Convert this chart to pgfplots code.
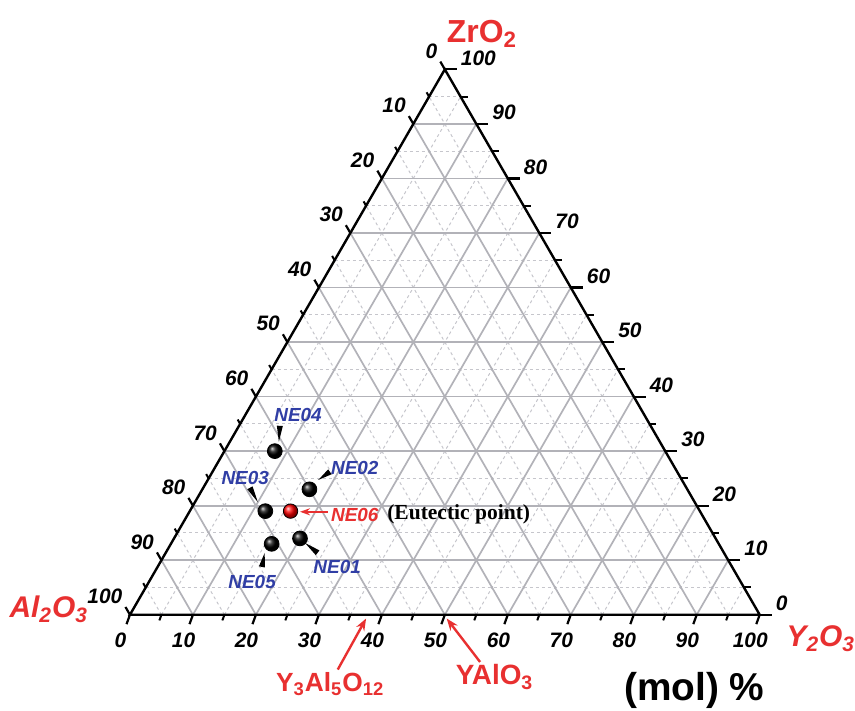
\documentclass[border=0pt]{standalone}
\usepackage{pgfplots}
\pgfplotsset{compat=1.18}
\usepackage{pgfplotstable}
\usepackage{fontspec}
\setmainfont{Liberation Sans}
\newfontfamily\serifb{Liberation Serif}
\usetikzlibrary{calc,arrows.meta}

\definecolor{lblred}{RGB}{232,48,48}
\definecolor{lblblue}{RGB}{48,62,165}
\definecolor{gridmaj}{RGB}{178,178,184}
\definecolor{gridmin}{RGB}{198,198,204}

% compositions in mol%: Al2O3, Y2O3, ZrO2
\pgfplotstableread{
name Al Y  Zr
NE01 66 20 14
NE02 60 17 23
NE03 69 12 19
NE04 62  8 30
NE05 71 16 13
}\samples
\pgfplotstableread{
name Al Y  Zr
NE06 65 16 19
}\eutectic

% pointer wedge: #1 tip, #2 wide end
\newcommand{\ptr}[2]{%
  \fill[black] ($(axis cs:#2)!1.5bp!90:(axis cs:#1)$) -- (axis cs:#1)
    -- ($(axis cs:#2)!1.5bp!-90:(axis cs:#1)$) -- cycle;}

\begin{document}
\begin{tikzpicture}[
    ticklbl/.style={font=\fontsize{10.5}{12}\selectfont\bfseries\itshape},
    nelbl/.style={font=\fontsize{9.5}{11}\selectfont\bfseries\itshape, text=lblblue},
    biglbl/.style={text=lblred, inner sep=0pt},
]
\begin{axis}[
    x=3.15bp, y=3.15bp,
    xmin=-20.635, xmax=115.079,
    ymin=-15.238, ymax=97.619,
    hide axis, clip=false,
]
\path (rel axis cs:0,0) rectangle (rel axis cs:1,1);

% grid
\pgfplotsinvokeforeach{5,15,...,95}{
  \draw[gridmin, line width=0.5bp, dash pattern=on 1.5bp off 1.5bp]
    (axis cs:{#1/2},{#1*0.8660254}) -- (axis cs:{100-#1/2},{#1*0.8660254});
  \draw[gridmin, line width=0.5bp, dash pattern=on 1.5bp off 1.5bp]
    (axis cs:#1,0) -- (axis cs:{(100+#1)/2},{(100-#1)*0.8660254});
  \draw[gridmin, line width=0.5bp, dash pattern=on 1.5bp off 1.5bp]
    (axis cs:#1,0) -- (axis cs:{#1/2},{#1*0.8660254});
}
\pgfplotsinvokeforeach{10,20,...,90}{
  \draw[gridmaj, line width=0.85bp]
    (axis cs:{#1/2},{#1*0.8660254}) -- (axis cs:{100-#1/2},{#1*0.8660254});
  \draw[gridmaj, line width=0.85bp]
    (axis cs:#1,0) -- (axis cs:{(100+#1)/2},{(100-#1)*0.8660254});
  \draw[gridmaj, line width=0.85bp]
    (axis cs:#1,0) -- (axis cs:{#1/2},{#1*0.8660254});
}

% frame
\draw[black, line width=1.2bp, line join=miter]
  (axis cs:0,0) -- (axis cs:100,0) -- (axis cs:50,86.60254) -- cycle;

% major ticks and labels
\pgfplotsinvokeforeach{0,10,...,100}{
  \draw[line width=1.1bp] (axis cs:{(100-#1)/2},{(100-#1)*0.8660254}) -- ++(120:4.5bp)
    node[ticklbl, anchor=south east, inner sep=1bp] {#1};
  \draw[line width=1.1bp] (axis cs:{100-#1/2},{#1*0.8660254}) -- ++(6bp,0bp)
    node[ticklbl, anchor=south west, inner sep=1.5bp] {#1};
  \draw[line width=1.1bp] (axis cs:#1,0) -- ++(250:5bp)
    node[ticklbl, anchor=north, inner sep=4bp, xshift=-3bp] {#1};
}
% minor ticks
\pgfplotsinvokeforeach{5,15,...,95}{
  \draw[line width=1bp] (axis cs:{(100-#1)/2},{(100-#1)*0.8660254}) -- ++(120:2.5bp);
  \draw[line width=1bp] (axis cs:{100-#1/2},{#1*0.8660254}) -- ++(3.5bp,0bp);
  \draw[line width=1bp] (axis cs:#1,0) -- ++(250:3bp);
}

% samples
\addplot[only marks, mark=ball, mark size=3.7bp, mark options={ball color=black}]
  table[x expr=\thisrow{Y}+0.5*\thisrow{Zr}, y expr=0.8660254*\thisrow{Zr}] {\samples};
\addplot[only marks, mark=ball, mark size=3.6bp, mark options={ball color=red}]
  table[x expr=\thisrow{Y}+0.5*\thisrow{Zr}, y expr=0.8660254*\thisrow{Zr}] {\eutectic};

% sample labels and pointers
\node[nelbl] at (axis cs:26.7,31.7) {NE04};
\node[nelbl] at (axis cs:35.7,23.3) {NE02};
\node[nelbl] at (axis cs:18.3,21.7) {NE03};
\node[nelbl] at (axis cs:32.9,7.6) {NE01};
\node[nelbl] at (axis cs:19.4,5.2) {NE05};
\node[nelbl, text=lblred] at (axis cs:35.7,15.9) {NE06};
\node[font=\serifb\fontsize{10.8}{12}\selectfont\bfseries] at (axis cs:52.2,15.9) {(Eutectic point)};
\ptr{23.65,27.46}{23.8,30.0}
\ptr{29.9,21.4}{31.75,22.7}
\ptr{20.3,17.9}{19.05,20.16}
\ptr{21.4,9.84}{20.95,7.6}
\ptr{27.8,11.4}{29.8,9.84}
\draw[lblred, line width=1bp, -{Stealth[length=5bp, width=3.5bp]}]
  (axis cs:31.4,16.35) -- (axis cs:27.0,16.35);

% phase markers on the Al2O3-Y2O3 side
\draw[lblred, line width=1.2bp, -{Stealth[length=6bp, width=4.5bp]}]
  (axis cs:33.0,-8.7) -- (axis cs:37.5,-0.6);
\draw[lblred, line width=1.2bp, -{Stealth[length=6bp, width=4.5bp]}]
  (axis cs:55.6,-7.5) -- (axis cs:50.3,-0.6);
\node[biglbl, font=\fontsize{13.2}{16}\selectfont\bfseries] at (axis cs:31.8,-11.0)
  {Y\textsubscript{3}Al\textsubscript{5}O\textsubscript{12}};
\node[biglbl, font=\fontsize{14}{16}\selectfont\bfseries] at (axis cs:57.9,-9.9)
  {YAlO\textsubscript{3}};

% component labels
\node[biglbl, font=\fontsize{16}{18}\selectfont\bfseries] at (axis cs:55.9,92.3)
  {ZrO\textsubscript{2}};
\node[biglbl, font=\fontsize{15}{18}\selectfont\bfseries\itshape] at (axis cs:-12.9,0.9)
  {Al\textsubscript{2}O\textsubscript{3}};
\node[biglbl, font=\fontsize{15}{18}\selectfont\bfseries\itshape] at (axis cs:109.7,-3.8)
  {Y\textsubscript{2}O\textsubscript{3}};
\node[inner sep=0pt, font=\fontsize{19.5}{22}\selectfont\bfseries] at (axis cs:89.6,-12.0) {(mol) \%};
\end{axis}
\end{tikzpicture}
\end{document}
